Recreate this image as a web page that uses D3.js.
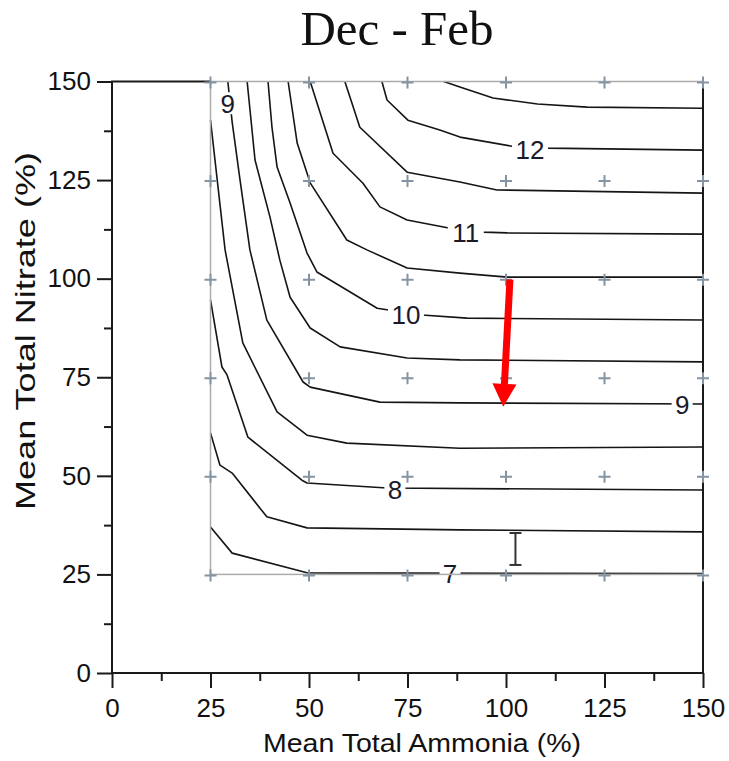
<!DOCTYPE html>
<html><head><meta charset="utf-8">
<script src="https://cdn.jsdelivr.net/npm/d3@7"></script>
<style>body{margin:0;background:#fff} svg{display:block}</style>
</head><body>
<svg id="chart" width="729" height="761"></svg>
<script>
const title = "Dec - Feb";
const xLabel = "Mean Total Ammonia (%)";
const yLabel = "Mean Total Nitrate (%)";
const xTicks = [0, 25, 50, 75, 100, 125, 150];
const yTicks = [0, 25, 50, 75, 100, 125, 150];
const xMinorTicks = [12.5, 37.5, 62.5, 87.5, 112.5, 137.5];
const yMinorTicks = [12.5, 37.5, 62.5, 87.5, 112.5, 137.5];
const gridX = [25, 50, 75, 100, 125, 150];
const gridY = [25, 50, 75, 100, 125, 150];

const levels = [7, 7.5, 8, 8.5, 9, 9.5, 10, 10.5, 11, 11.5, 12, 12.5];
const line_7    = [[25,37.0],[30.5,30.4],[49.5,25.4],[150,25.2]];
const line_7_5  = [[25,60.9],[27.4,52.7],[30.5,50.7],[39.3,39.6],[49.5,36.8],[88.3,36.3],[150,35.8]];
const line_8    = [[25,94.6],[27.9,77.6],[29.2,75.6],[34.5,59.8],[48.2,48.9],[49.5,48.2],[69.8,46.9],[150,46.4]];
const line_8_5  = [[25,140.2],[28.7,107.3],[33.2,83.7],[41.9,66.2],[49.5,60.3],[59.6,58.3],[88.3,57.0],[150,57.3]];
const line_9    = [[29.4,150],[30.5,139.7],[32.5,125.0],[35.0,107.3],[39.3,89.5],[48.5,73.8],[50.3,72.5],[68.0,68.7],[88.3,68.5],[150,68.2]];
const line_9_5  = [[34.3,150],[36.3,130.1],[40.1,115.6],[42.6,104.7],[45.2,95.3],[50.3,87.5],[57.9,82.7],[74.9,79.9],[88.3,79.4],[150,78.9]];
const line_10   = [[39.6,150],[40.6,138.4],[41.9,128.3],[45.2,119.2],[49.5,106.5],[52.0,101.7],[67.3,92.5],[70.6,92.0],[78.7,90.8],[90.1,90.0],[150,89.5]];
const line_10_5 = [[44.7,150],[47.0,134.4],[50.3,124.3],[59.6,109.8],[64.7,107.3],[74.9,102.7],[88.3,101.4],[100.3,100.4],[150,100.4]];
const line_11   = [[50.3,150],[56.1,131.8],[63.7,124.2],[68.0,118.2],[74.9,114.9],[85.8,112.8],[94.2,111.8],[100.3,111.6],[150,111.3]];
const line_11_5 = [[59.1,150],[62.9,138.4],[74.9,127.0],[88.3,124.5],[97.7,122.5],[150,121.7]];
const line_12   = [[68.5,150],[69.8,145.3],[75.1,140.2],[83.2,137.7],[88.3,135.9],[101.5,133.6],[110.4,133.1],[150,132.6]];
const line_12_5 = [[84.2,150],[88.3,148.6],[96.7,145.8],[108.0,144.3],[120.6,143.5],[150,143.2]];
const contourLines = [line_7, line_7_5, line_8, line_8_5, line_9, line_9_5, line_10, line_10_5, line_11, line_11_5, line_12, line_12_5];

// label: [level, x, y] in data units
const contourLabels = [[12,106.1,132.6],[11,89.8,111.7],[10,74.6,90.8],[9,144.7,68.0],[9,29.4,144.5],[8,71.8,46.6],[7,85.8,25.1]];

const arrowFrom = [101.0, 99.8];
const arrowTo = [99.3, 67.5];
const errorBarX = 102.4, errorBarLow = 27.4, errorBarHigh = 35.5;

const svg = d3.select("#chart");
const x = d3.scaleLinear().domain([0, 150]).range([112, 703]);
const y = d3.scaleLinear().domain([0, 150]).range([673, 81.5]);
const FONT = "'Liberation Sans', Arial, sans-serif";

// title
svg.append("text").attr("x", 397).attr("y", 45).attr("text-anchor", "middle")
  .attr("font-family", "'Liberation Serif', 'Times New Roman', serif").attr("font-size", 49)
  .attr("fill", "#111").text(title);

// frame (left, bottom, right, and top segment left of data region)
svg.append("path")
  .attr("d", `M${x(25)},${y(150)}H${x(0)}V${y(0)}H${x(150)}V${y(150)}`)
  .attr("fill", "none").attr("stroke", "#1a1a1a").attr("stroke-width", 2);

// axes
function styleAxis(g) {
  g.select(".domain").remove();
  g.selectAll(".tick line").attr("stroke", "#1a1a1a").attr("stroke-width", 2);
  g.selectAll(".tick text").attr("font-family", FONT).attr("font-size", 26).attr("fill", "#111");
}
svg.append("g").attr("transform", `translate(0,${y(0)})`)
  .call(d3.axisBottom(x).tickValues(xTicks).tickSize(15).tickPadding(11).tickFormat(d3.format("d")))
  .call(styleAxis);
svg.append("g").attr("transform", `translate(0,${y(0)})`)
  .call(d3.axisBottom(x).tickValues(xMinorTicks).tickSize(8).tickFormat(""))
  .call(styleAxis);
svg.append("g").attr("transform", `translate(${x(0)},0)`)
  .call(d3.axisLeft(y).tickValues(yTicks).tickSize(15).tickPadding(6).tickFormat(d3.format("d")))
  .call(styleAxis);
svg.append("g").attr("transform", `translate(${x(0)},0)`)
  .call(d3.axisLeft(y).tickValues(yMinorTicks).tickSize(8).tickFormat(""))
  .call(styleAxis);

// axis titles
svg.append("text").attr("x", 422).attr("y", 752).attr("text-anchor", "middle")
  .attr("font-family", FONT).attr("font-size", 26).attr("fill", "#111")
  .attr("textLength", 318).attr("lengthAdjust", "spacingAndGlyphs").text(xLabel);
svg.append("text").attr("transform", "translate(35,331) rotate(-90)").attr("text-anchor", "middle")
  .attr("font-family", FONT).attr("font-size", 28).attr("fill", "#111")
  .attr("textLength", 358).attr("lengthAdjust", "spacingAndGlyphs").text(yLabel);

// contour lines
const lineGen = d3.line().x(d => x(d[0])).y(d => y(d[1]));
svg.append("g").selectAll("path").data(contourLines).join("path")
  .attr("d", lineGen).attr("fill", "none").attr("stroke", "#151515").attr("stroke-width", 1.6)
  .attr("stroke-linejoin", "round");

// contour labels with white background
const lab = svg.append("g").selectAll("g").data(contourLabels).join("g")
  .attr("transform", d => `translate(${x(d[1])},${y(d[2])})`);
lab.append("rect").attr("x", d => -(String(d[0]).length * 7.5 + 3)).attr("y", -11)
  .attr("width", d => String(d[0]).length * 15 + 6).attr("height", 22).attr("fill", "#fff");
lab.append("text").attr("text-anchor", "middle").attr("dy", "0.36em")
  .attr("font-family", FONT).attr("font-size", 26).attr("fill", "#1a1a2a").text(d => d[0]);

// grey data region
svg.append("rect").attr("x", x(25)).attr("y", y(150)).attr("width", x(150) - x(25)).attr("height", y(25) - y(150))
  .attr("fill", "none").attr("stroke", "#ababab").attr("stroke-width", 1.5);
// right frame line is black over grey
svg.append("line").attr("x1", x(150)).attr("x2", x(150)).attr("y1", y(150)).attr("y2", y(0))
  .attr("stroke", "#1a1a1a").attr("stroke-width", 2);

// grid markers
const pts = [];
gridX.forEach(gx => gridY.forEach(gy => pts.push([gx, gy])));
const mk = svg.append("g").attr("stroke", "#8594a3").attr("stroke-width", 2);
mk.selectAll("path").data(pts).join("path")
  .attr("d", d => `M${x(d[0]) - 6},${y(d[1]) + 1}h12M${x(d[0])},${y(d[1]) - 5}v12`);

// error bar
const eb = svg.append("g").attr("stroke", "#333").attr("stroke-width", 2);
eb.append("line").attr("x1", x(errorBarX)).attr("x2", x(errorBarX)).attr("y1", y(errorBarLow)).attr("y2", y(errorBarHigh));
eb.append("line").attr("x1", x(errorBarX) - 6).attr("x2", x(errorBarX) + 6).attr("y1", y(errorBarLow)).attr("y2", y(errorBarLow));
eb.append("line").attr("x1", x(errorBarX) - 6).attr("x2", x(errorBarX) + 6).attr("y1", y(errorBarHigh)).attr("y2", y(errorBarHigh));

// red arrow
const ax0 = x(arrowFrom[0]), ay0 = y(arrowFrom[1]), ax1 = x(arrowTo[0]), ay1 = y(arrowTo[1]);
const L = Math.hypot(ax1 - ax0, ay1 - ay0), ux = (ax1 - ax0) / L, uy = (ay1 - ay0) / L;
const headLen = 23, headHalf = 12;
const bx = ax1 - ux * headLen, by = ay1 - uy * headLen;
svg.append("line").attr("x1", ax0).attr("y1", ay0).attr("x2", bx + ux * 2).attr("y2", by + uy * 2)
  .attr("stroke", "#ff0000").attr("stroke-width", 7);
svg.append("path").attr("fill", "#ff0000")
  .attr("d", `M${ax1},${ay1}L${bx - uy * headHalf},${by + ux * headHalf}L${bx + uy * headHalf},${by - ux * headHalf}Z`);
</script>
</body></html>
